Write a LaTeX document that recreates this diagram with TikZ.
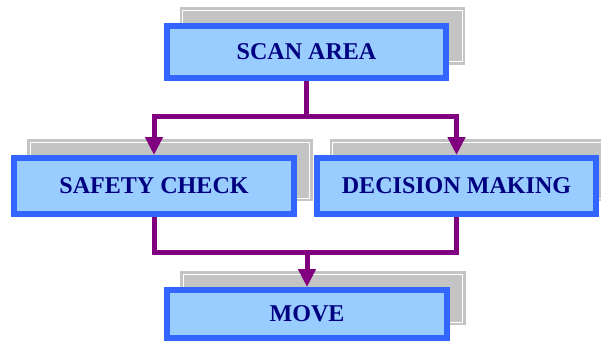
\documentclass[tikz,border=0pt]{standalone}
\usepackage{fontspec}
\newfontfamily\boxfont{Liberation Serif}
\usetikzlibrary{positioning}
\usetikzlibrary{arrows.meta}
\usetikzlibrary{backgrounds}
\definecolor{boxblue}{HTML}{3366FF}
\definecolor{boxfill}{HTML}{99CCFF}
\definecolor{boxtext}{HTML}{000080}
\definecolor{linkpurple}{HTML}{800080}
\definecolor{shadowgray}{HTML}{C4C4C4}
\tikzset{mybox/.style={draw=boxblue, fill=boxfill, line width=0.12cm,
minimum width=5.6cm, minimum height=1.04cm, inner sep=0pt, text=boxtext,
font=\boxfont\bfseries\fontsize{13.7}{16}\selectfont},
myline/.style={draw=linkpurple, line width=0.1cm},
myarrow/.style={myline, -{Triangle[length=0.36cm, width=0.34cm]}}}

\begin{document}
\begin{tikzpicture}[x=0.02cm, y=-0.02cm]
	\useasboundingbox (0,0) rectangle (601,342);
	\node[mybox] (scan) at (306.5,52) {SCAN AREA};
	\node[mybox, minimum height=1.12cm] (safety) at (154,186) {SAFETY CHECK};
	\node[mybox, minimum height=1.12cm] (decision) at (456.5,186) {DECISION MAKING};
	\node[mybox, minimum height=0.96cm] (move) at (307,314) {MOVE};
	% shadows behind the boxes
	\begin{scope}[on background layer]
		\foreach \n in {scan,safety,decision,move} {
			\fill[shadowgray] ([shift={(16,-16)}]\n.south west) rectangle ([shift={(16,-16)}]\n.north east);
			\draw[white, line width=0.02cm] ([shift={(19,-19)}]\n.south west) rectangle ([shift={(13,-13)}]\n.north east);
		}
	\end{scope}
	% connectors
	\draw[myline] (scan.south) -- ++(0,36) coordinate (split);
	\draw[myarrow] (split) -| (safety.north);
	\draw[myarrow] (split) -| (decision.north);
	\draw[myline] (safety.south) -- ++(0,35) coordinate (merge) -| (decision.south);
	\draw[myarrow] (merge -| move.north) -- (move.north);
\end{tikzpicture}
\end{document}
